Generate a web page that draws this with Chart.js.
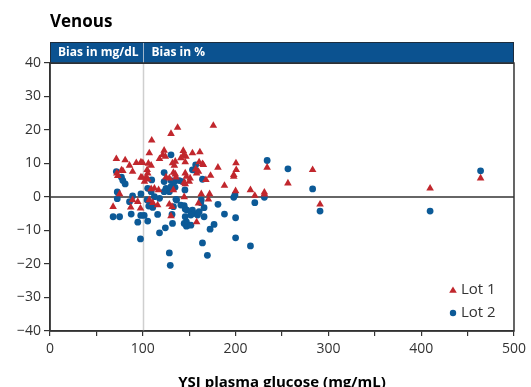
<!DOCTYPE html>
<html>
<head>
<meta charset="utf-8">
<script src="https://cdn.jsdelivr.net/npm/chart.js@4"></script>
<style>
  html, body { margin: 0; padding: 0; background: #fff; }
  #wrap { width: 531px; height: 387px; }
</style>
</head>
<body>
<div id="wrap"><canvas id="biasChart" width="531" height="387"></canvas></div>
<script>
// Lot 1 (red triangles): YSI glucose (mg/dL) vs bias
const lot1X = [68, 71.5, 81, 85.7, 93, 98, 100, 106, 109, 77, 78.5, 72, 73, 89, 75, 87, 89, 94.6, 97.5, 98,
    137.5, 130.4, 109.6, 107, 123, 121.4, 124.3, 118, 132, 134, 141, 143.6, 145.7, 104.7, 105.3, 103.6, 99.3, 101.8, 105.3, 125,
    128.6, 135.7, 145.7, 147, 109, 112.5, 117, 133, 144.6, 107, 110.7, 116, 128.6, 131.5, 130.4, 176, 144, 146.5, 153.5, 161.5,
    135, 157, 158, 160, 160.7, 164.3, 165.3, 181, 200.4, 200.7, 198, 198, 234, 133, 135, 173, 168, 151, 150, 144.6,
    145.7, 188, 200, 216, 220.7, 231, 231, 256.4, 163, 172, 160, 170.7, 158, 409.6, 464, 283, 291];
const lot1Y = [-2.9, 11.4, 11.0, 9.4, 10.2, 10.4, 10.2, 10.0, 9.4, 8.0, 7.8, 7.1, 6.3, 7.6, 0.9, -3.1, -0.9, -1.4, -3.4, 5.9,
    20.7, 18.9, 16.9, 13.1, 13.9, 12.6, 12.1, 11.4, 10.1, 9.4, 11.6, 13.8, 10.4, 8.1, 7.1, 5.9, 5.8, 4.6, 5.3, 5.9,
    5.6, 5.9, 7.1, 6.1, 2.4, 2.6, 2.1, 2.1, 0, -0.9, -1.7, -2.4, -2.2, -2.9, -5.7, 21.3, 12.6, 12.1, 13.1, 13.4,
    10.6, 8.3, 7.1, 7.6, 10.4, 9.9, 9.6, 8.8, 10.1, 8.1, 6.6, 6.1, 8.8, 7.3, 6.8, 6.4, 5.1, 5.6, 4.6, 4.3,
    3.9, 3.4, 1.8, 2.1, 0.4, 1.4, 0.8, 4.1, 0.9, 0.9, -1.9, -0.7, -7.5, 2.6, 5.6, 8.1, -2.2];

// Lot 2 (blue circles)
const lot2X = [68, 75, 71.5, 77, 78.5, 81, 72.5, 72.5, 89, 85.7, 87.5, 94.6, 97.8, 101.5, 97.5, 98, 105.3, 130.4, 123, 109.6,
    105.3, 109, 123, 130.4, 134, 139.3, 142.8, 125, 130.4, 128.6, 118, 123, 145.4, 104.7, 108, 110, 106.4, 110.7, 112.5, 136.4,
    144.6, 145.7, 147.5, 131.5, 132, 124.3, 118, 128.6, 129.6, 145.7, 147, 147, 157, 153.5, 157.2, 164.3, 134.7, 198, 199.3, 231,
    220.7, 181, 163, 162.5, 153.5, 155.4, 151.8, 159, 160.7, 166, 133, 135.7, 144.6, 148.2, 166, 188, 200, 151.8, 176.8, 172.5,
    200, 216, 164.3, 169.6, 234, 256.4, 409.6, 464, 283, 291, 116, 141];
const lot2Y = [-5.9, -5.9, 7.6, 5.9, 4.9, 3.9, 1.5, -0.5, 0.3, -1.4, -5.1, -7.5, -5.5, -5.5, -12.5, 0.9, -7.2, 12.6, 7.3, 5.1,
    2.6, 1.6, 4.6, 4.9, 4.6, 4.9, 4.6, 2.6, 3.1, 1.6, -0.4, 1.6, 2.1, -0.9, -1.7, -2.4, -2.7, -3.1, 0.1, -0.9,
    -2.6, -3.6, -3.9, -5.2, -7.9, -9.2, -10.7, -16.7, -20.4, -5.9, -7.4, -8.7, 9.6, 8.1, 7.9, 5.3, 2.9, -0.1, 0.6, -0.1,
    -1.7, -2.2, -0.9, -1.7, -3.9, -4.9, -5.4, -5.4, -4.4, -3.2, -2.9, -0.7, -7.9, -8.4, -5.9, -5.1, -6.2, -8.4, -8.2, -9.6,
    -12.2, -14.6, -13.7, -17.4, 10.9, 8.4, -4.2, 7.8, 2.4, -4.2, -5.2, -2.4];

const seriesNames = ["Lot 1", "Lot 2"];
const xTicks = [0, 100, 200, 300, 400, 500];
const yTicks = [-40, -30, -20, -10, 0, 10, 20, 30, 40];
const chartTitle = "Venous";
const headerLeft = "Bias in mg/dL";
const headerRight = "Bias in %";
const splitAt = 100;

const RED = "#c1272d";
const BLUE = "#0c5a97";
const AXIS = "#333";

function toPoints(xs, ys) {
    return xs.map((x, i) => ({ x: x, y: ys[i] }));
}

// reference lines under the points
const refLines = {
    id: "refLines",
    beforeDatasetsDraw(chart) {
        const { ctx, chartArea: a, scales: { x, y } } = chart;
        ctx.save();
        const vx = Math.round(x.getPixelForValue(splitAt)) + 0.5;
        ctx.strokeStyle = "#cfcfcf";
        ctx.lineWidth = 1.5;
        ctx.beginPath();
        ctx.moveTo(vx, a.top - 21);
        ctx.lineTo(vx, a.bottom);
        ctx.stroke();
        const zy = y.getPixelForValue(0);
        ctx.strokeStyle = "#666";
        ctx.lineWidth = 2;
        ctx.beginPath();
        ctx.moveTo(a.left, zy);
        ctx.lineTo(a.right, zy);
        ctx.stroke();
        ctx.restore();
    }
};

// title, blue header bar, frame, legend
const decor = {
    id: "decor",
    afterDraw(chart) {
        const { ctx, chartArea: a, scales: { x } } = chart;
        ctx.save();
        ctx.fillStyle = "#000";
        ctx.font = "bold 17px 'Open Sans', sans-serif";
        ctx.textBaseline = "alphabetic";
        ctx.textAlign = "left";
        ctx.fillText(chartTitle, 50, 27);

        const hTop = a.top - 21;
        ctx.fillStyle = "#0b5290";
        ctx.fillRect(a.left, hTop, a.right - a.left, 21);
        ctx.strokeStyle = "#1d2d3d";
        ctx.lineWidth = 1;
        ctx.strokeRect(a.left + 0.5, hTop + 0.5, a.right - a.left - 1, 21);
        const vx = Math.round(x.getPixelForValue(splitAt)) + 0.5;
        ctx.strokeStyle = "#9fb6cc";
        ctx.beginPath();
        ctx.moveTo(vx, hTop + 1);
        ctx.lineTo(vx, a.top);
        ctx.stroke();
        ctx.fillStyle = "#fff";
        ctx.font = "bold 12px 'Open Sans', sans-serif";
        ctx.textBaseline = "middle";
        ctx.fillText(headerLeft, a.left + 8, hTop + 11);
        ctx.fillText(headerRight, vx + 8, hTop + 11);

        ctx.strokeStyle = AXIS;
        ctx.lineWidth = 1.5;
        ctx.strokeRect(a.left, a.top, a.right - a.left, a.bottom - a.top);

        // legend
        ctx.font = "15px 'Open Sans', sans-serif";
        chart.data.datasets.forEach((ds, i) => {
            const ly = a.bottom - 41 + i * 23;
            const lx = a.right - 61;
            ctx.fillStyle = ds.backgroundColor;
            ctx.beginPath();
            if (ds.pointStyle === "triangle") {
                ctx.moveTo(lx, ly - 3.5);
                ctx.lineTo(lx + 3.8, ly + 2.8);
                ctx.lineTo(lx - 3.8, ly + 2.8);
                ctx.closePath();
            } else {
                ctx.arc(lx, ly, 3.2, 0, Math.PI * 2);
            }
            ctx.fill();
            ctx.fillStyle = "#333";
            ctx.textBaseline = "middle";
            ctx.fillText(ds.label, lx + 8, ly);
        });
        ctx.restore();
    }
};

new Chart(document.getElementById("biasChart"), {
    type: "scatter",
    data: {
        datasets: [
            {
                label: seriesNames[0],
                data: toPoints(lot1X, lot1Y),
                pointStyle: "triangle",
                pointRadius: 4.4,
                backgroundColor: RED,
                borderColor: RED,
                borderWidth: 0
            },
            {
                label: seriesNames[1],
                data: toPoints(lot2X, lot2Y),
                pointStyle: "circle",
                pointRadius: 3.4,
                backgroundColor: BLUE,
                borderColor: BLUE,
                borderWidth: 0
            }
        ]
    },
    options: {
        responsive: false,
        animation: false,
        events: [],
        layout: { padding: { top: 63, right: 14, left: 0, bottom: 0 } },
        plugins: {
            legend: { display: false },
            tooltip: { enabled: false }
        },
        scales: {
            x: {
                type: "linear",
                min: 0,
                max: 500,
                afterFit(scale) { scale.height = 56; },
                afterBuildTicks(scale) {
                    scale.ticks = [];
                    for (let v = 0; v <= 500; v += 50) scale.ticks.push({ value: v });
                },
                ticks: {
                    autoSkip: false,
                    maxRotation: 0,
                    padding: 5,
                    color: "#333",
                    font: { family: "'Open Sans', sans-serif", size: 14 },
                    callback: (v) => xTicks.includes(v) ? String(v) : ""
                },
                grid: { drawOnChartArea: false, drawTicks: true, tickLength: 5, color: AXIS, lineWidth: 1.2 },
                border: { display: true, color: AXIS, width: 1.5 },
                title: {
                    display: true,
                    text: "YSI plasma glucose (mg/mL)",
                    color: "#000",
                    font: { family: "'Open Sans', sans-serif", size: 15, weight: "bold" },
                    padding: { top: 0, bottom: -5 }
                }
            },
            y: {
                type: "linear",
                min: -40,
                max: 40,
                afterFit(scale) { scale.width = 50; },
                afterBuildTicks(scale) {
                    scale.ticks = yTicks.map(v => ({ value: v }));
                },
                ticks: {
                    padding: 3,
                    color: "#333",
                    font: { family: "'Open Sans', sans-serif", size: 14 },
                    callback: (v) => String(v).replace("-", "\u2212")
                },
                grid: { drawOnChartArea: false, drawTicks: true, tickLength: 6, color: AXIS, lineWidth: 1.2 },
                border: { display: true, color: AXIS, width: 1.5 }
            }
        }
    },
    plugins: [refLines, decor]
});
</script>
</body>
</html>
